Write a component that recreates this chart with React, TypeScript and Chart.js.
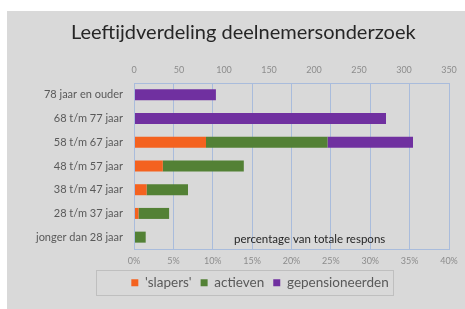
import React, { useEffect, useRef } from "react";
import { Chart, registerables } from "chart.js";

Chart.register(...registerables);

const titleText = "Leeftijdverdeling deelnemersonderzoek";
const categories = [
  "78 jaar en ouder",
  "68 t/m 77 jaar",
  "58 t/m 67 jaar",
  "48 t/m 57 jaar",
  "38 t/m 47 jaar",
  "28 t/m 37 jaar",
  "jonger dan 28 jaar",
];
const seriesNames = ["'slapers'", "actieven", "gepensioneerden"];
const slapers = [0, 0, 80, 32, 14, 5, 0];
const actieven = [0, 0, 135, 90, 46, 34, 13];
const gepensioneerden = [91, 280, 95, 0, 0, 0, 0];
const countTicks = { min: 0, max: 350, step: 50 };
const percentTicks = { min: 0, max: 40, step: 5 };
const annotationText = "percentage van totale respons";
const annotationPercent = 22.3;

const FONT = "Lato";
const GRID = "#a9bcdc";

const bgPlugin = {
  id: "bgPlugin",
  beforeDraw(chart: any) {
    const ctx = chart.ctx;
    ctx.save();
    ctx.fillStyle = "#ffffff";
    ctx.fillRect(0, 0, chart.width, chart.height);
    ctx.fillStyle = "#d9d9d9";
    ctx.fillRect(7, 11, chart.width - 7, chart.height - 11);
    ctx.restore();
  },
  afterDatasetsDraw(chart: any) {
    const ctx = chart.ctx;
    const a = chart.chartArea;
    ctx.save();
    ctx.strokeStyle = GRID;
    ctx.lineWidth = 1;
    ctx.strokeRect(Math.round(a.left) + 0.5, Math.round(a.top) + 0.5, Math.round(a.right - a.left), Math.round(a.bottom - a.top));
    const x2 = chart.scales.x2;
    const y = chart.scales.y;
    ctx.fillStyle = "#262626";
    ctx.font = `11.5px ${FONT}`;
    ctx.textAlign = "center";
    ctx.textBaseline = "middle";
    ctx.fillText(annotationText, x2.getPixelForValue(annotationPercent), y.getPixelForValue(categories.length - 1) + 2);
    const lg = chart.legend;
    if (lg && lg.legendHitBoxes && lg.legendHitBoxes.length) {
      const hb = lg.legendHitBoxes;
      const first = hb[0];
      const last = hb[hb.length - 1];
      const l = first.left - 35;
      const r = last.left + last.width + 5;
      const cy = first.top + first.height / 2;
      ctx.strokeStyle = "#bfbfbf";
      ctx.strokeRect(Math.round(l) + 0.5, Math.round(cy - 12.5) + 0.5, Math.round(r - l), 25);
    }
    ctx.restore();
  },
};

export default function App() {
  const ref = useRef<HTMLCanvasElement>(null);
  useEffect(() => {
    if (!ref.current) return;
    const chart = new Chart(ref.current, {
      type: "bar",
      data: {
        labels: categories,
        datasets: [
          { label: seriesNames[0], data: slapers, backgroundColor: "#f4621f", xAxisID: "x" },
          { label: seriesNames[1], data: actieven, backgroundColor: "#538135", xAxisID: "x" },
          { label: seriesNames[2], data: gepensioneerden, backgroundColor: "#7030a0", xAxisID: "x" },
        ],
      },
      options: {
        indexAxis: "y",
        responsive: false,
        animation: false,
        layout: { padding: { left: 71, right: 16, top: 0, bottom: 9.5 } },
        datasets: { bar: { categoryPercentage: 0.8, barPercentage: 0.58 } },
        scales: {
          x: {
            position: "top",
            stacked: true,
            min: countTicks.min,
            max: countTicks.max,
            afterFit: (s: any) => { s.height = 18; },
            grid: { display: false, drawTicks: false },
            border: { display: false },
            ticks: { stepSize: countTicks.step, padding: 8, color: "#8c8c8c", font: { family: FONT, size: 9 } },
          },
          x2: {
            type: "linear",
            position: "bottom",
            display: true,
            min: percentTicks.min,
            max: percentTicks.max,
            afterFit: (s: any) => { s.height = 18; },
            grid: { display: true, drawTicks: false, color: GRID, lineWidth: 1 },
            border: { display: false },
            ticks: { stepSize: percentTicks.step, padding: 7, color: "#8c8c8c", font: { family: FONT, size: 9 }, callback: (v: any) => v + "%" },
          },
          y: {
            stacked: true,
            afterFit: (s: any) => { s.width = 63; s._computeLabelArea = () => undefined; },
            grid: { display: false, drawTicks: false },
            border: { display: false },
            ticks: { padding: 11, color: "#595959", font: { family: FONT, size: 11 } },
          },
        },
        plugins: {
          title: {
            display: true,
            text: titleText,
            align: "start",
            color: "#262626",
            font: { family: FONT, size: 20, weight: "normal" },
            padding: { top: 21, bottom: 20 },
          },
          legend: {
            position: "bottom",
            labels: { boxWidth: 7, boxHeight: 7, padding: 9, color: "#595959", font: { family: FONT, size: 13.5 } },
          },
          tooltip: { enabled: false },
        },
      },
      plugins: [bgPlugin],
    } as any);
    return () => chart.destroy();
  }, []);
  return (
    <div style={{ position: "absolute", left: 0, top: 0, width: 465, height: 309 }}>
      <canvas ref={ref} width={465} height={309} />
    </div>
  );
}
